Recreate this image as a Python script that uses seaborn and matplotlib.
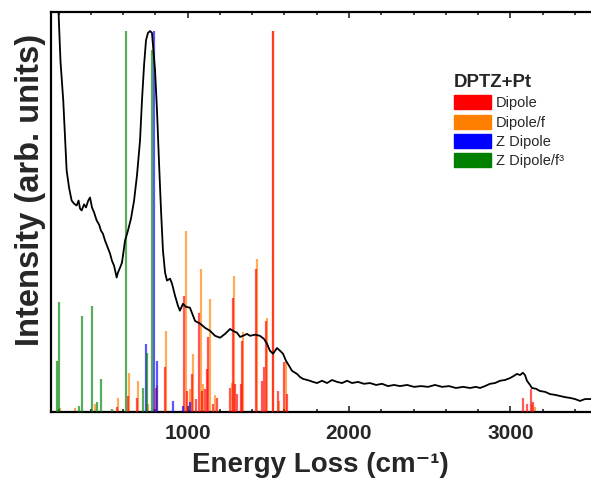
import matplotlib
matplotlib.use("Agg")
import matplotlib.pyplot as plt
from matplotlib.patches import Patch
from matplotlib.ticker import MultipleLocator
import numpy as np
import pandas as pd
import seaborn as sns

# ---------------- data ----------------
spec_energy = [195, 212, 229, 250, 265, 281, 296, 312, 324, 333, 343, 358, 370, 384, 395, 407, 420, 436,
               451, 463, 475, 488, 500, 519, 531, 544, 560, 568, 581, 593, 612, 630, 649, 668, 686, 705,
               717, 730, 742, 754, 767, 779, 785, 798, 810, 822, 835, 847, 860, 872, 891, 903, 922, 940,
               952, 971, 990, 1014, 1033, 1046, 1077, 1108, 1139, 1170, 1201, 1232, 1263, 1281, 1306,
               1325, 1343, 1368, 1387, 1418, 1448, 1473, 1492, 1510, 1529, 1554, 1572, 1591, 1610, 1622,
               1647, 1678, 1696, 1715, 1740, 1758, 1777, 1802, 1833, 1864, 1895, 1926, 1957, 1988, 2019,
               2056, 2093, 2130, 2168, 2205, 2242, 2279, 2316, 2360, 2403, 2447, 2490, 2533, 2577, 2620,
               2663, 2707, 2750, 2787, 2812, 2843, 2874, 2905, 2936, 2967, 2998, 3023, 3041, 3060, 3078,
               3091, 3103, 3122, 3134, 3159, 3184, 3215, 3246, 3277, 3308, 3339, 3370, 3401, 3432, 3463,
               3500]
spec_intensity = [1.10, 0.92, 0.818, 0.634, 0.589, 0.555, 0.547, 0.542, 0.555, 0.534, 0.529, 0.545, 0.537,
                  0.555, 0.563, 0.537, 0.524, 0.503, 0.492, 0.476, 0.468, 0.45, 0.437, 0.416, 0.397, 0.384,
                  0.353, 0.366, 0.379, 0.392, 0.45, 0.476, 0.508, 0.555, 0.621, 0.713, 0.818, 0.911, 0.976,
                  0.995, 1.0, 0.995, 0.963, 0.897, 0.792, 0.661, 0.529, 0.424, 0.366, 0.345, 0.35, 0.337,
                  0.305, 0.279, 0.266, 0.284, 0.276, 0.274, 0.253, 0.239, 0.232, 0.221, 0.213, 0.2, 0.195,
                  0.205, 0.218, 0.213, 0.208, 0.197, 0.2, 0.205, 0.2, 0.203, 0.2, 0.192, 0.179, 0.161,
                  0.153, 0.168, 0.161, 0.153, 0.134, 0.126, 0.108, 0.1, 0.092, 0.087, 0.084, 0.082, 0.079,
                  0.076, 0.082, 0.076, 0.084, 0.079, 0.076, 0.082, 0.076, 0.079, 0.074, 0.076, 0.071,
                  0.074, 0.068, 0.071, 0.068, 0.071, 0.066, 0.068, 0.066, 0.071, 0.066, 0.068, 0.063,
                  0.066, 0.063, 0.066, 0.063, 0.068, 0.074, 0.076, 0.082, 0.084, 0.089, 0.095, 0.1, 0.097,
                  0.103, 0.097, 0.082, 0.071, 0.063, 0.061, 0.055, 0.053, 0.047, 0.045, 0.042, 0.039,
                  0.037, 0.034, 0.029, 0.034, 0.034]

dipole_f_energy = [209, 302, 426, 570, 637, 694, 756, 808, 866, 988, 1012, 1031, 1081, 1097, 1139, 1170,
                   1275, 1287, 1343, 1432, 1494, 1527, 1568, 1608, 3132, 3153]
dipole_f_int = [0.01, 0.01, 0.02, 0.038, 0.103, 0.082, 0.02, 0.07, 0.213, 0.476, 0.06, 0.152, 0.375,
                0.074, 0.297, 0.045, 0.077, 0.358, 0.209, 0.402, 0.248, 1.0, 0.03, 0.134, 0.02, 0.012]

dipole_energy = [564, 632, 688, 804, 860, 979, 998, 1025, 1052, 1072, 1087, 1108, 1122, 1128, 1159, 1180,
                 1262, 1279, 1295, 1304, 1329, 1339, 1424, 1459, 1475, 1486, 1527, 1558, 1599, 1618,
                 3080, 3103, 3126, 3140]
dipole_int = [0.013, 0.042, 0.038, 0.064, 0.117, 0.305, 0.055, 0.099, 0.034, 0.261, 0.055, 0.06, 0.113,
              0.196, 0.02, 0.037, 0.064, 0.30, 0.073, 0.047, 0.073, 0.187, 0.375, 0.082, 0.117, 0.24,
              1.0, 0.055, 0.13, 0.047, 0.038, 0.02, 0.06, 0.025]

zdipole_energy = [745, 790, 810, 911, 974, 1016]
zdipole_int = [0.178, 1.0, 0.134, 0.029, 0.016, 0.025]

zdipole_f3_energy = [192, 200, 327, 347, 405, 436, 463, 529, 618, 721, 746, 781]
zdipole_f3_int = [0.134, 0.288, 0.016, 0.253, 0.279, 0.025, 0.087, 0.008, 1.0, 0.064, 0.156, 0.95]

legend_title = "DPTZ+Pt"
series_labels = ["Dipole", "Dipole/f", "Z Dipole", "Z Dipole/f\u00b3"]
series_colors = ["#FF0000", "#FF8000", "#0000FF", "#008000"]

# ---------------- plot ----------------
sns.set_theme(style="ticks")
plt.rcParams["font.family"] = ["Liberation Sans", "DejaVu Sans"]

fig = plt.figure(figsize=(5.91, 4.78), dpi=100)
ax = fig.add_axes([50.5 / 591, 1 - 412 / 478, 1 - 50.5 / 591, 400 / 478])

stick_lw = 1.6
stick_alpha = 0.65
ax.vlines(dipole_f_energy, 0, dipole_f_int, colors=series_colors[1], lw=stick_lw, alpha=stick_alpha, zorder=2)
ax.vlines(dipole_energy, 0, dipole_int, colors=series_colors[0], lw=stick_lw, alpha=stick_alpha, zorder=3)
ax.vlines(zdipole_energy, 0, zdipole_int, colors=series_colors[2], lw=stick_lw, alpha=stick_alpha, zorder=4)
ax.vlines(zdipole_f3_energy, 0, zdipole_f3_int, colors=series_colors[3], lw=stick_lw, alpha=stick_alpha, zorder=5)

spec = pd.DataFrame({"Energy": spec_energy, "Intensity": spec_intensity})
sns.lineplot(data=spec, x="Energy", y="Intensity", color="black", lw=1.3, ax=ax, zorder=10)

ax.set_xlim(150, 3500)
ax.set_ylim(0, 1.05)
ax.set_yticks([])
ax.xaxis.set_major_locator(MultipleLocator(1000))
ax.xaxis.set_minor_locator(MultipleLocator(200))
ax.tick_params(axis="x", which="both", direction="in", top=True, bottom=True, width=1.2, pad=8.5)
ax.tick_params(axis="x", which="major", length=4)
ax.tick_params(axis="x", which="minor", length=2.5)
for lab in ax.get_xticklabels():
    lab.set_fontweight("bold")
    lab.set_fontsize(15)

for s in ["left", "top", "bottom"]:
    ax.spines[s].set_linewidth(1.6)
    ax.spines[s].set_color("black")
ax.spines["right"].set_visible(False)

ax.set_xlabel("Energy Loss (cm\u207b\u00b9)", fontsize=20, fontweight="bold", labelpad=6.5)
ax.set_ylabel("Intensity (arb. units)", fontsize=23.5, fontweight="bold")
ax.yaxis.set_label_coords(-0.009, 0.555)

handles = [Patch(facecolor=c, edgecolor=c, alpha=1.0, label=l) for c, l in zip(series_colors, series_labels)]
leg = ax.legend(handles=handles, title=legend_title, loc="upper left",
                bbox_to_anchor=(454 / 591, 1 - 74 / 478), bbox_transform=fig.transFigure,
                frameon=False, fontsize=10.5, handlelength=2.55, handleheight=1.1,
                labelspacing=0.3, handletextpad=0.3, borderpad=0, borderaxespad=0,
                alignment="left")
leg.get_title().set_fontweight("bold")
leg.get_title().set_fontsize(13.4)

fig.savefig("out.png", dpi=100)
